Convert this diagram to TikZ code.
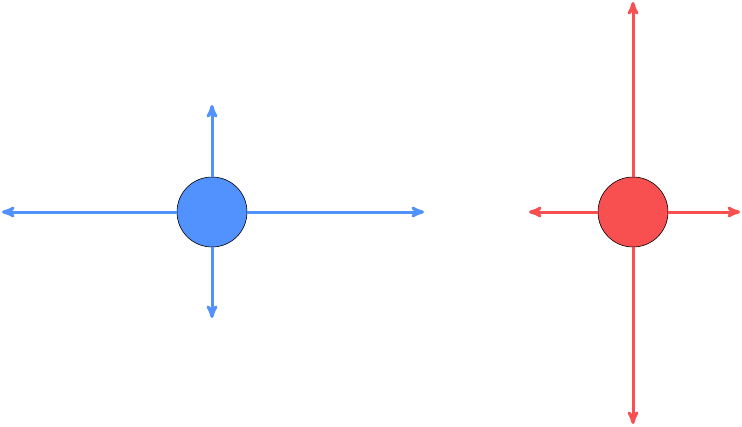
\documentclass[tikz,border=0pt]{standalone}
\usepackage{tikz}
\usetikzlibrary{arrows}
\definecolor{bluefill}{RGB}{82,146,255}
\definecolor{redfill}{RGB}{248,80,80}

\begin{document}
\begin{tikzpicture}[x=1pt,y=-1pt]
  \tikzstyle{ball}=[circle,draw=black,line width=0.6pt,minimum size=70pt,inner sep=0pt]
  \tikzstyle{ray}=[->,>=stealth',line width=3pt]
  \useasboundingbox (0,0) rectangle (742,426);

  \node[ball,fill=bluefill] (B) at (212,212) {};
  \node[ball,fill=redfill]  (R) at (633,212) {};

  \coordinate (bl) at (2,212);
  \coordinate (br) at (424,212);
  \coordinate (bu) at (212,105);
  \coordinate (bd) at (212,318);
  \coordinate (rl) at (529,212);
  \coordinate (rr) at (740,212);
  \coordinate (ru) at (633,2);
  \coordinate (rd) at (633,424);

  \draw[ray,bluefill] (B.west) -- (bl);
  \draw[ray,bluefill] (B.east) -- (br);
  \draw[ray,bluefill] (B.north) -- (bu);
  \draw[ray,bluefill] (B.south) -- (bd);
  \draw[ray,redfill] (R.west) -- (rl);
  \draw[ray,redfill] (R.east) -- (rr);
  \draw[ray,redfill] (R.north) -- (ru);
  \draw[ray,redfill] (R.south) -- (rd);
\end{tikzpicture}
\end{document}
